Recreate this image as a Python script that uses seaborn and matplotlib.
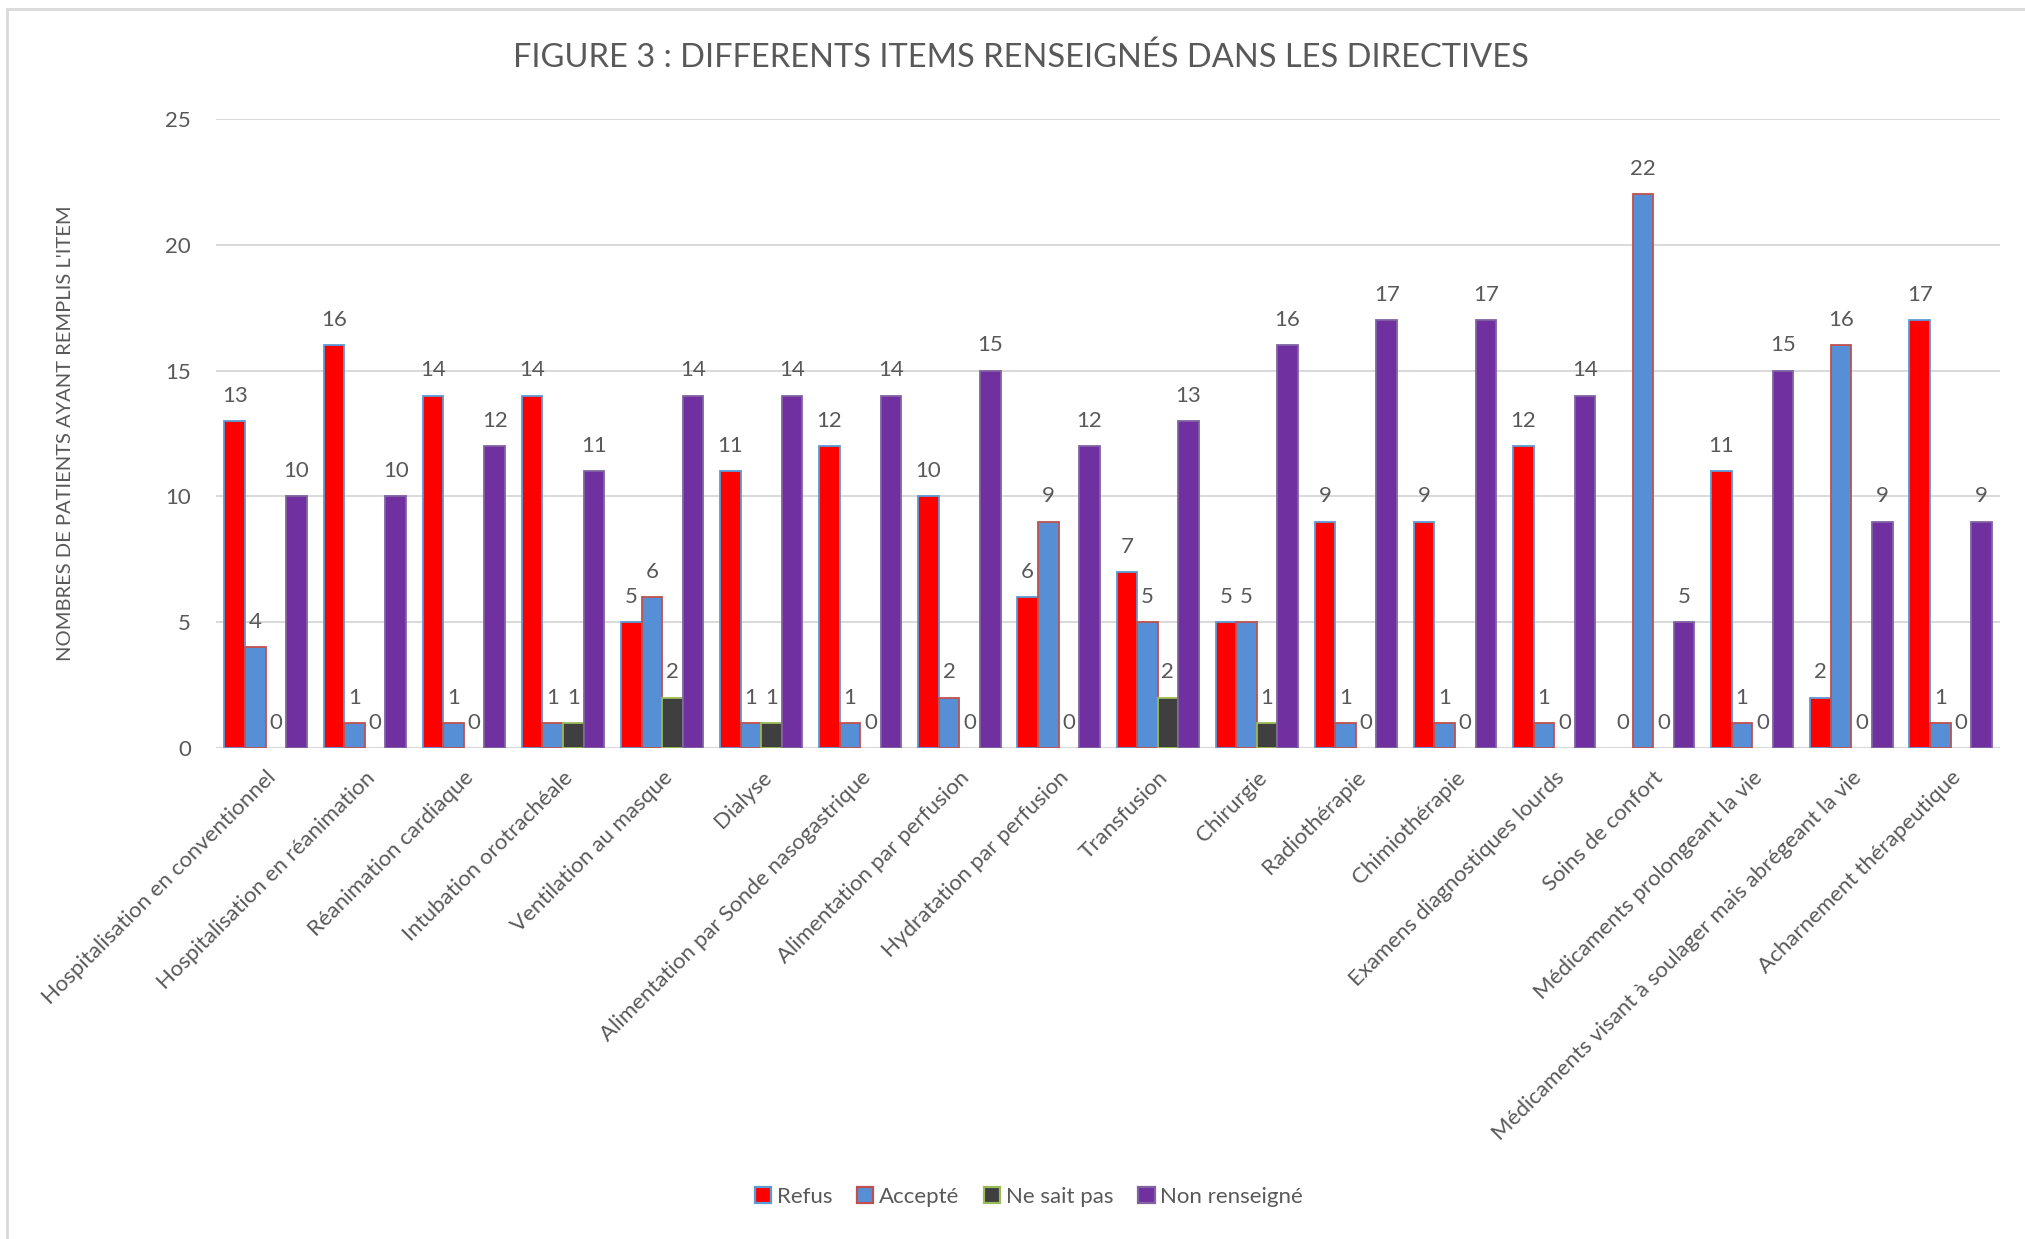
import matplotlib
matplotlib.use("Agg")
import matplotlib.pyplot as plt
from matplotlib.patches import Rectangle
import numpy as np
import pandas as pd
import seaborn as sns

# Items listed in the advance directives
items = [
    "Hospitalisation en conventionnel",
    "Hospitalisation en réanimation",
    "Réanimation cardiaque",
    "Intubation orotrachéale",
    "Ventilation au masque",
    "Dialyse",
    "Alimentation par Sonde nasogastrique",
    "Alimentation par perfusion",
    "Hydratation par perfusion",
    "Transfusion",
    "Chirurgie",
    "Radiothérapie",
    "Chimiothérapie",
    "Examens diagnostiques lourds",
    "Soins de confort",
    "Médicaments prolongeant la vie",
    "Médicaments visant à soulager mais abrégeant la vie",
    "Acharnement thérapeutique",
]

series = ["Refus", "Accepté", "Ne sait pas", "Non renseigné"]

refus = [13, 16, 14, 14, 5, 11, 12, 10, 6, 7, 5, 9, 9, 12, 0, 11, 2, 17]
accepte = [4, 1, 1, 1, 6, 1, 1, 2, 9, 5, 5, 1, 1, 1, 22, 1, 16, 1]
ne_sait_pas = [0, 0, 0, 1, 2, 1, 0, 0, 0, 2, 1, 0, 0, 0, 0, 0, 0, 0]
non_renseigne = [10, 10, 12, 11, 14, 14, 14, 15, 12, 13, 16, 17, 17, 14, 5, 15, 9, 9]

y_ticks = [0, 5, 10, 15, 20, 25]

fill_colors = ["#FF0000", "#568FD6", "#3F3F3F", "#7030A0"]
edge_colors = ["#5B9BD5", "#C0504D", "#9BBB59", "#8064A2"]
text_color = "#595959"
grid_color = "#D9D9D9"

df = pd.DataFrame({
    "item": items * 4,
    "statut": [s for s in series for _ in items],
    "n": refus + accepte + ne_sait_pas + non_renseigne,
})

sns.set_theme(style="white")
plt.rcParams["font.family"] = ["Lato", "DejaVu Sans"]

fig = plt.figure(figsize=(20.25, 12.39), dpi=100)
ax = fig.add_axes([0.1067, 0.3963, 0.8810, 0.5077])

sns.barplot(
    data=df, x="item", y="n", hue="statut", order=items, hue_order=series,
    palette=fill_colors, width=0.83, ax=ax, errorbar=None, saturation=1,
    legend=False,
)

for cont, ec in zip(ax.containers, edge_colors):
    for bar in cont:
        bar.set_edgecolor(ec)
        bar.set_linewidth(1.3 if bar.get_height() > 0 else 0)
    ax.bar_label(cont, fmt="%d", padding=11, fontsize=16, color=text_color)

ax.set_ylim(0, 25)
ax.set_xlim(-0.5, len(items) - 0.5)
ax.set_yticks(y_ticks)
ax.yaxis.grid(True, color=grid_color, linewidth=1.4)
ax.set_axisbelow(True)
for sp in ax.spines.values():
    sp.set_visible(False)
ax.axhline(0, color=grid_color, linewidth=1.6, zorder=0.5)

ax.tick_params(axis="y", labelsize=16, labelcolor=text_color, length=0, pad=18)
ax.tick_params(axis="x", labelsize=16, labelcolor=text_color, length=0, pad=14)
plt.setp(ax.get_xticklabels(), rotation=45, ha="right", rotation_mode="anchor")

ax.set_xlabel("")
ax.set_ylabel("NOMBRES DE PATIENTS AYANT REMPLIS L'ITEM", fontsize=14.5,
              color=text_color, labelpad=66)

fig.text(0.504, 0.953, "FIGURE 3 : DIFFERENTS ITEMS RENSEIGNÉS DANS LES DIRECTIVES",
         ha="center", va="center", fontsize=23.5, color=text_color)

handles = [ax.containers[i][0] for i in range(4)]
leg = fig.legend(
    handles, series, loc="center", bbox_to_anchor=(0.508, 0.034), ncol=4,
    frameon=False, fontsize=16, handlelength=0.75, handleheight=0.75,
    handletextpad=0.25, columnspacing=1.1,
)
for h in leg.legend_handles:
    h.set_linewidth(1.6)
for t in leg.get_texts():
    t.set_color(text_color)

# Chart frame
fig.patches.append(Rectangle((7 / 2025, -0.1), 1.2, 1.1 - 9 / 1239,
                             transform=fig.transFigure, fill=False,
                             edgecolor=grid_color, linewidth=2.0))

fig.savefig("out.png", dpi=100)
